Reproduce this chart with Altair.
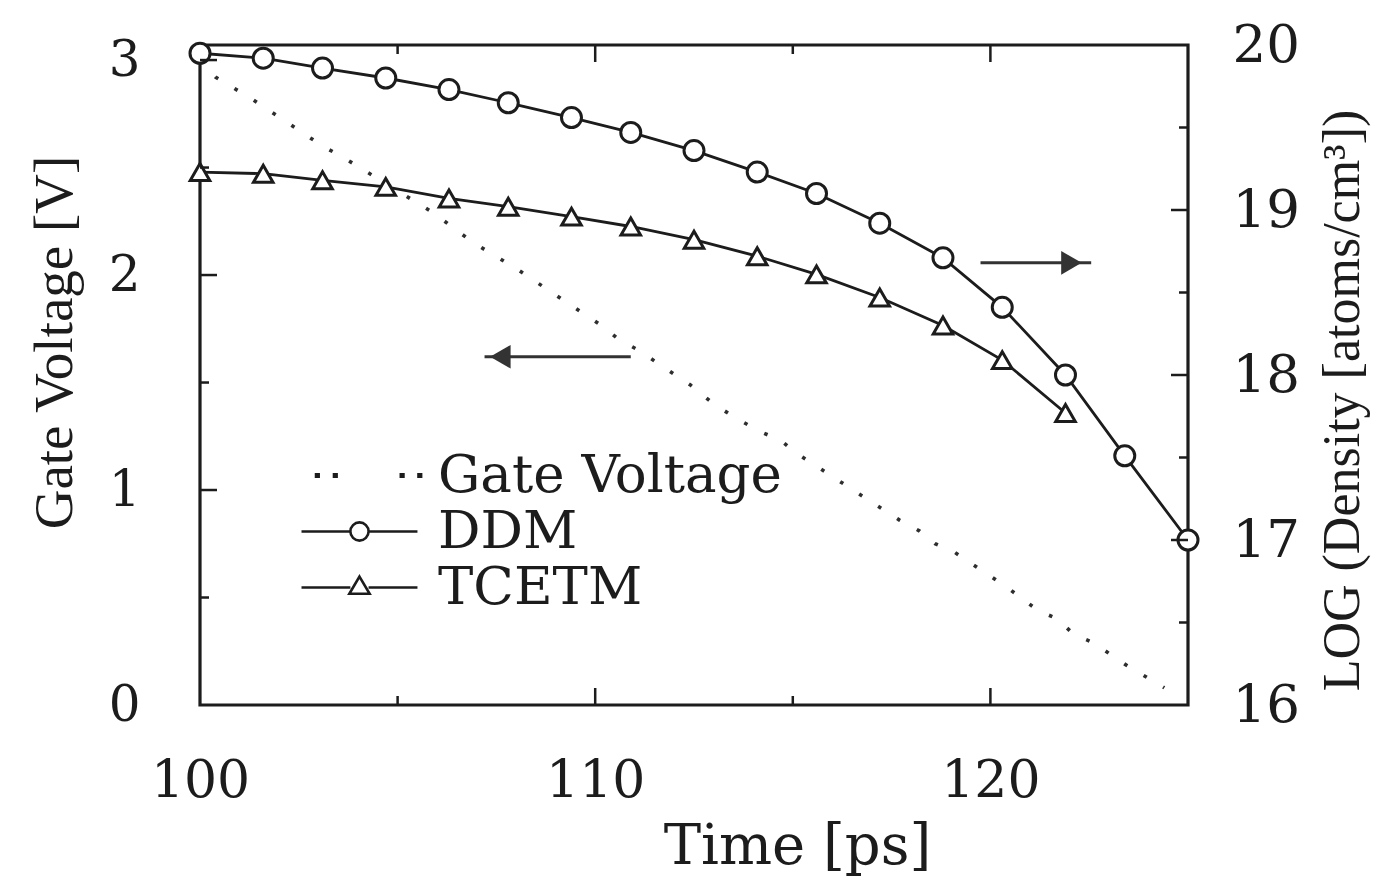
import altair as alt
import pandas as pd

SERIF = "DejaVu Serif"
SERIF_N = "Liberation Serif"
INK = "#1c1c1c"

# ---------------- data ----------------
time_ddm = [100.0, 101.6, 103.1, 104.7, 106.3, 107.8, 109.4, 110.9, 112.5,
            114.1, 115.6, 117.2, 118.8, 120.3, 121.9, 123.4, 125.0]
ddm = [19.95, 19.92, 19.86, 19.80, 19.73, 19.65, 19.56, 19.47, 19.36,
       19.23, 19.10, 18.92, 18.71, 18.41, 18.00, 17.51, 17.00]

time_tcetm = [100.0, 101.6, 103.1, 104.7, 106.3, 107.8, 109.4, 110.9, 112.5,
              114.1, 115.6, 117.2, 118.8, 120.3, 121.9]
tcetm = [19.23, 19.22, 19.18, 19.14, 19.07, 19.02, 18.96, 18.90, 18.82,
         18.72, 18.61, 18.47, 18.30, 18.09, 17.77]

gate_time = [100.0, 100.4, 101.3, 102.2, 103.1, 103.6, 105.9, 106.7, 107.1,
             108.0, 110.2, 110.6, 111.1, 111.5, 112.4, 113.0, 113.6, 114.2,
             114.7, 115.1, 117.7, 118.2, 118.6, 119.1, 119.5, 120.4, 121.2,
             121.7, 122.1, 122.6, 123.4, 124.4]
gate_v = [3.00, 2.92, 2.82, 2.71, 2.60, 2.55, 2.29, 2.18, 2.13,
          2.03, 1.76, 1.70, 1.65, 1.60, 1.49, 1.40, 1.33, 1.27,
          1.23, 1.17, 0.86, 0.81, 0.75, 0.71, 0.66, 0.55, 0.44,
          0.40, 0.33, 0.29, 0.19, 0.08]

series_names = ["Gate Voltage", "DDM", "TCETM"]

x_ticks = [100, 110, 120]
left_ticks = [0, 1, 2, 3]
right_ticks = [16, 17, 18, 19, 20]
x_major = [110, 120]
x_minor = [105, 115]
left_major = [1, 2, 3]
left_minor = [0.5, 1.5, 2.5]
right_major = [17, 18, 19]
right_minor = [16.5, 17.5, 18.5, 19.5]

# arrows (data coordinates): left arrow on voltage scale, right arrow on density scale
arrow_left = {"t": [107.2], "t2": [110.9], "v": [1.62], "head": [107.6]}
arrow_right = {"t": [119.75], "t2": [122.55], "v": [18.68], "head": [122.05]}

# ---------------- layout ----------------
W, H = 988, 660
X_DOMAIN = [100, 125]
LEFT_DOMAIN = [0, 3.07]
RIGHT_DOMAIN = [16, 20]

x_axis = alt.Axis(values=x_ticks, title="Time [ps]", grid=False, domain=False,
                  ticks=False, labelPadding=50, labelFont=SERIF, labelFontSize=52,
                  labelFlush=False, labelOverlap=False, titleFont=SERIF,
                  titleFontSize=56, titleX=597, titleY=158,
                  titleBaseline="alphabetic", titleAlign="center")


def X(field="t"):
    return alt.X(f"{field}:Q", scale=alt.Scale(domain=X_DOMAIN, nice=False, zero=False),
                 axis=x_axis)


def YL(field, axis=None):
    return alt.Y(f"{field}:Q", scale=alt.Scale(domain=LEFT_DOMAIN, nice=False, zero=False),
                 axis=axis)


def YR(field, axis=None):
    return alt.Y(f"{field}:Q", scale=alt.Scale(domain=RIGHT_DOMAIN, nice=False, zero=False),
                 axis=axis)


left_axis = alt.Axis(orient="left", values=left_ticks, title="Gate Voltage [V]",
                     grid=False, domain=False, ticks=False, labelPadding=60,
                     labelFont=SERIF, labelFontSize=50, labelFlush=False,
                     titleFont=SERIF_N, titleFontSize=55, titleX=-146, titleY=297,
                     titleAngle=270, titleAlign="center", titleBaseline="middle")

right_axis = alt.Axis(orient="right", values=right_ticks,
                      title="LOG (Density [atoms/cm³])", grid=False, domain=False,
                      ticks=False, labelPadding=44, labelFont=SERIF, labelFontSize=53,
                      labelFlush=False, titleFont=SERIF_N, titleFontSize=52,
                      titleX=154, titleY=355, titleAngle=270, titleAlign="center",
                      titleBaseline="middle")

gate_df = pd.DataFrame({"t": gate_time, "v": gate_v})
dens_df = pd.DataFrame({
    "t": time_ddm + time_tcetm,
    "d": ddm + tcetm,
    "series": ["DDM"] * len(ddm) + ["TCETM"] * len(tcetm),
})

gate = alt.Chart(gate_df).mark_line(
    color="#2e2e2e", strokeWidth=3.6, strokeDash=[3.6, 19], strokeCap="butt"
).encode(x=X(), y=YL("v", left_axis))

dens_lines = alt.Chart(dens_df).mark_line(color=INK, strokeWidth=2.8).encode(
    x=X(), y=YR("d", right_axis), detail="series:N")

ddm_pts = alt.Chart(dens_df).transform_filter(alt.datum.series == "DDM").mark_point(
    shape="circle", size=400, filled=True, fill="white", stroke=INK, strokeWidth=3, opacity=1
).encode(x=X(), y=YR("d"))

tce_pts = alt.Chart(dens_df).transform_filter(alt.datum.series == "TCETM").mark_point(
    shape="triangle-up", size=380, filled=True, fill="white", stroke=INK, strokeWidth=3, opacity=1
).encode(x=X(), y=YR("d"))

# legend symbols: line segments with the marker in the middle (unit = sqrt(size)/2 px)
gate_sym = ("M-0.44,-0.05h0.1v0.1h-0.1Z M0.25,-0.05h0.1v0.1h-0.1Z "
            "M2.82,-0.05h0.1v0.1h-0.1Z M3.5,-0.05h0.1v0.1h-0.1Z")
ddm_sym = ("M-1,0L0.88,0M1.58,0L3.46,0"
           "M0.88,0A0.35,0.35,0,1,1,1.58,0A0.35,0.35,0,1,1,0.88,0Z")
tce_sym = "M-1,0L0.88,0M1.58,0L3.46,0M1.23,-0.42L1.62,0.24L0.84,0.24Z"

# legend-only layer: no rows are drawn, the explicit domain builds the legend
legend_layer = alt.Chart(dens_df).transform_filter("false").mark_point(
    filled=False, color=INK, strokeWidth=2.6, opacity=1
).encode(
    x=X(), y=YR("d"),
    shape=alt.Shape("series:N",
                    scale=alt.Scale(domain=series_names, range=[gate_sym, ddm_sym, tce_sym]),
                    legend=alt.Legend(title=None, orient="none", legendX=100, legendY=403,
                                      symbolSize=2704, symbolOpacity=1,
                                      symbolStrokeWidth=2.6, symbolStrokeColor=INK,
                                      labelFont=SERIF,
                                      labelFontSize=53, labelColor=INK, labelOffset=83,
                                      labelLimit=0, padding=0, rowPadding=1, offset=0)),
)

al_df = pd.DataFrame(arrow_left)
ar_df = pd.DataFrame(arrow_right)
arrow_l_shaft = alt.Chart(al_df).mark_rule(color="#333", strokeWidth=3).encode(
    x=X(), x2="t2:Q", y=YL("v"))
arrow_l_head = alt.Chart(al_df).mark_point(shape="triangle-left", filled=True, size=560,
                                           color="#333", opacity=1).encode(
    x=X("head"), y=YL("v"))
arrow_r_shaft = alt.Chart(ar_df).mark_rule(color="#333", strokeWidth=3).encode(
    x=X(), x2="t2:Q", y=YR("v"))
arrow_r_head = alt.Chart(ar_df).mark_point(shape="triangle-right", filled=True, size=560,
                                           color="#333", opacity=1).encode(
    x=X("head"), y=YR("v"))

# inward tick marks
MAJ, MIN = 17, 9


def xticks(vals, top, length):
    df = pd.DataFrame({"t": vals})
    y0, y1 = (0, length) if top else (H, H - length)
    return alt.Chart(df).mark_rule(color=INK, strokeWidth=2.5).encode(
        x=X(), y=alt.value(y0), y2=alt.value(y1))


def yticks(vals, left, length):
    df = pd.DataFrame({"v": vals})
    x0, x1 = (0, length) if left else (W, W - length)
    yenc = YL("v") if left else YR("v")
    return alt.Chart(df).mark_rule(color=INK, strokeWidth=2.5).encode(
        y=yenc, x=alt.value(x0), x2=alt.value(x1))


tick_layers = [
    xticks(x_major, False, MAJ), xticks(x_minor, False, MIN),
    xticks(x_major, True, MAJ), xticks(x_minor, True, MIN),
    yticks(left_major, True, MAJ), yticks(left_minor, True, MIN),
    yticks(right_major, False, MAJ), yticks(right_minor, False, MIN),
]

chart = alt.layer(
    gate, dens_lines, ddm_pts, tce_pts, legend_layer,
    arrow_l_shaft, arrow_l_head, arrow_r_shaft, arrow_r_head, *tick_layers
).resolve_scale(y="independent", shape="independent").properties(
    width=W, height=H,
    autosize=alt.AutoSizeParams(type="none"),
    padding={"left": 192, "top": 37, "right": 186, "bottom": 178},
    background="white",
).configure_view(stroke=INK, strokeWidth=3.2).configure_axis(
    labelColor=INK, titleColor=INK, titleFontWeight="normal"
)

chart.save("out.html", embed_options={"renderer": "svg", "actions": False})
